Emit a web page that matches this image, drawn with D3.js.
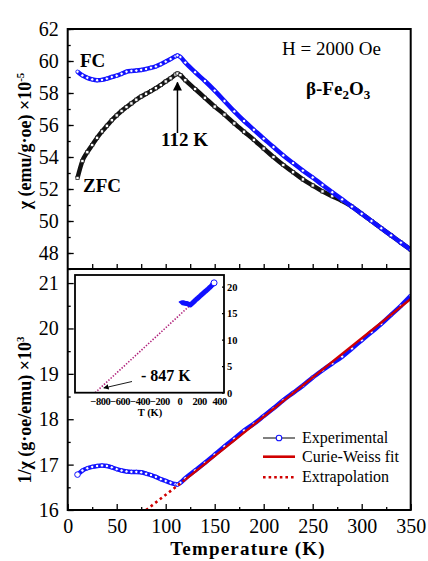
<!DOCTYPE html>
<html><head><meta charset="utf-8">
<script src="https://cdn.jsdelivr.net/npm/d3@7/dist/d3.min.js"></script>
<style>
html,body{margin:0;padding:0;background:#fff;}
</style></head>
<body>
<svg id="c" width="428" height="561"></svg>
<script>
// ---------- DATA ----------
const temps = [10,15,20,25,30,35,40,45,50,55,60,65,70,75,80,85,90,95,100,105,110,112,115,120,130,140,150,160,170,180,190,200,210,220,230,240,250,260,270,280,290,300,310,320,330,340,350];
const chiFC = [59.33,59.1,58.95,58.85,58.8,58.82,58.9,59.0,59.08,59.2,59.33,59.38,59.4,59.44,59.5,59.58,59.66,59.8,59.96,60.12,60.3,60.35,60.25,59.9,59.3,58.75,58.15,57.5,56.85,56.25,55.7,55.15,54.62,54.1,53.62,53.15,52.72,52.25,51.8,51.35,50.9,50.45,50.0,49.55,49.1,48.65,48.2];
const chiZFC = [52.69,53.75,54.3,54.75,55.2,55.6,55.95,56.3,56.6,56.88,57.12,57.35,57.58,57.78,57.95,58.12,58.3,58.5,58.72,58.92,59.15,59.22,59.12,58.8,58.25,57.7,57.15,56.65,56.1,55.58,55.07,54.53,54.0,53.5,53.05,52.6,52.22,51.85,51.55,51.25,50.9,50.45,50.0,49.55,49.1,48.65,48.2];
const invChi = [16.78,16.87,16.92,16.95,16.97,16.98,16.97,16.94,16.9,16.87,16.85,16.84,16.84,16.83,16.8,16.77,16.73,16.68,16.64,16.6,16.57,16.56,16.6,16.7,16.87,17.04,17.22,17.4,17.57,17.75,17.9,18.07,18.24,18.42,18.58,18.74,18.92,19.08,19.23,19.38,19.56,19.74,19.92,20.1,20.3,20.5,20.72];
const fitT = [120, 350], fitVals = [16.67, 20.65];
const extrapT = [80, 120], extrapVals = [16.0, 16.67];
const insetExtrapT = [-847, 120], insetExtrapVals = [0, 16.67];
const xTicks = [0,50,100,150,200,250,300,350];
const topYTicks = [48,50,52,54,56,58,60,62];
const botYTicks = [16,17,18,19,20,21];
const insetXTicks = [-800,-600,-400,-200,0,200,400];
const insetYTicks = [0,5,10,15,20];
const legendItems = ["Experimental","Curie-Weiss fit","Extrapolation"];

// ---------- LAYOUT ----------
const FONT = "'Liberation Serif Regular','Liberation Serif','Times New Roman',serif";
const FONTB = "'Liberation Serif','Times New Roman',serif";
const svg = d3.select("#c");
const L = 67.7, R = 410.7, T1 = 29, MID = 269, B2 = 510;
const blue = "#1010ff", red = "#d00000", mag = "#b0207a";

function txt(sel, bold){
  return sel.style("font-family", bold ? FONTB : FONT).style("font-weight", bold ? 700 : 500).attr("fill","#000");
}

const x = d3.scaleLinear().domain([0,350]).range([L,R]);
const yTop = d3.scaleLinear().domain([47,62]).range([MID,T1]);
const yBot = d3.scaleLinear().domain([16,21.31]).range([B2,MID]);

const ptsFC = temps.map((t,i)=>[t,chiFC[i]]);
const ptsZFC = temps.map((t,i)=>[t,chiZFC[i]]);
const ptsInv = temps.map((t,i)=>[t,invChi[i]]);

function styleAxis(g, fs, bold){
  g.attr("font-family",null).attr("font-size",null);
  g.select(".domain").remove();
  g.selectAll("line").attr("stroke","#000").attr("stroke-width",1.3);
  txt(g.selectAll("text").attr("font-size",fs), bold);
}
const fmt = d3.format("d");

svg.append("clipPath").attr("id","clipTop").append("rect").attr("x",L).attr("y",T1).attr("width",R-L).attr("height",MID-T1);
svg.append("clipPath").attr("id","clipBot").append("rect").attr("x",L).attr("y",MID).attr("width",R-L).attr("height",B2-MID);

// ---- top panel data ----
const gTop = svg.append("g").attr("clip-path","url(#clipTop)");
const lineTop = d3.line().x(d=>x(d[0])).y(d=>yTop(d[1])).curve(d3.curveMonotoneX);
gTop.append("path").datum(ptsZFC).attr("d",lineTop).attr("fill","none").attr("stroke","#111").attr("stroke-width",4.5);
gTop.selectAll("rect.z").data(ptsZFC).enter().append("rect")
  .attr("x",d=>x(d[0])-1.6).attr("y",d=>yTop(d[1])-1.6).attr("width",3.2).attr("height",3.2)
  .attr("fill","#fff").attr("stroke","#222").attr("stroke-width",0.8);
gTop.append("path").datum(ptsFC).attr("d",lineTop).attr("fill","none").attr("stroke",blue).attr("stroke-width",4.5);
gTop.selectAll("circle.f").data(ptsFC).enter().append("circle")
  .attr("cx",d=>x(d[0])).attr("cy",d=>yTop(d[1])).attr("r",1.7)
  .attr("fill","#fff").attr("stroke",blue).attr("stroke-width",0.9);

// ---- bottom panel data ----
const gBot = svg.append("g").attr("clip-path","url(#clipBot)");
const lineBot = d3.line().x(d=>x(d[0])).y(d=>yBot(d[1])).curve(d3.curveMonotoneX);
gBot.append("path").datum(ptsInv).attr("d",lineBot).attr("fill","none").attr("stroke",blue).attr("stroke-width",4.5);
gBot.selectAll("circle.i").data(ptsInv).enter().append("circle")
  .attr("cx",d=>x(d[0])).attr("cy",d=>yBot(d[1])).attr("r",1.7)
  .attr("fill","#fff").attr("stroke",blue).attr("stroke-width",0.9);
gBot.append("circle").attr("cx",x(temps[0])).attr("cy",yBot(invChi[0])).attr("r",2.8).attr("fill","#fff").attr("stroke",blue).attr("stroke-width",1);
const lineLin = d3.line().x(d=>x(d[0])).y(d=>yBot(d[1]));
gBot.append("path").datum(extrapT.map((t,i)=>[t,extrapVals[i]])).attr("d",lineLin)
  .attr("fill","none").attr("stroke",red).attr("stroke-width",2.6).attr("stroke-dasharray","2.6,3.2");
gBot.append("path").datum(fitT.map((t,i)=>[t,fitVals[i]])).attr("d",lineLin)
  .attr("fill","none").attr("stroke",red).attr("stroke-width",2.4);

// ---- axes ----
svg.append("g").attr("transform",`translate(${L},0)`)
  .call(d3.axisLeft(yTop).tickValues(d3.range(47,62.01,1)).tickSizeInner(-3).tickSizeOuter(0).tickFormat(""))
  .call(g=>styleAxis(g,20));
svg.append("g").attr("transform",`translate(${L},0)`)
  .call(d3.axisLeft(yTop).tickValues(topYTicks).tickSizeInner(-6).tickSizeOuter(0).tickPadding(9).tickFormat(fmt))
  .call(g=>styleAxis(g,20));
svg.append("g").attr("transform",`translate(0,${MID})`)
  .call(d3.axisBottom(x).tickValues(d3.range(25,350,25)).tickSizeInner(-5).tickSizeOuter(0).tickFormat(""))
  .call(g=>styleAxis(g,20));
svg.append("g").attr("transform",`translate(${L},0)`)
  .call(d3.axisLeft(yBot).tickValues(d3.range(16.5,21.3,1)).tickSizeInner(-3).tickSizeOuter(0).tickFormat(""))
  .call(g=>styleAxis(g,20));
svg.append("g").attr("transform",`translate(${L},0)`)
  .call(d3.axisLeft(yBot).tickValues(botYTicks).tickSizeInner(-6).tickSizeOuter(0).tickPadding(9).tickFormat(fmt))
  .call(g=>styleAxis(g,20));
svg.append("g").attr("transform",`translate(0,${B2})`)
  .call(d3.axisBottom(x).tickValues(d3.range(25,350,50)).tickSizeInner(-3).tickSizeOuter(0).tickFormat(""))
  .call(g=>styleAxis(g,20));
svg.append("g").attr("transform",`translate(0,${B2})`)
  .call(d3.axisBottom(x).tickValues(xTicks).tickSizeInner(-6).tickSizeOuter(0).tickPadding(9).tickFormat(fmt))
  .call(g=>styleAxis(g,20));

// frames
svg.append("rect").attr("x",L).attr("y",T1).attr("width",R-L).attr("height",B2-T1).attr("fill","none").attr("stroke","#000").attr("stroke-width",2);
svg.append("line").attr("x1",L).attr("x2",R).attr("y1",MID).attr("y2",MID).attr("stroke","#000").attr("stroke-width",2);

// ---- titles ----
txt(svg.append("text").attr("x",248).attr("y",555).attr("text-anchor","middle")
  .attr("font-size",19).attr("letter-spacing",1.2).text("Temperature (K)"), true);

const yl1 = txt(svg.append("text").attr("transform","translate(31,141) rotate(-90)").attr("text-anchor","middle")
  .attr("font-size",18), true);
yl1.append("tspan").text("χ (emu/g·oe) ×10");
yl1.append("tspan").attr("font-size",11).attr("dy",-7).text("-5");

const yl2 = txt(svg.append("text").attr("transform","translate(31,410) rotate(-90)").attr("text-anchor","middle")
  .attr("font-size",18), true);
yl2.append("tspan").text("1/χ (g·oe/emu) ×10");
yl2.append("tspan").attr("font-size",11).attr("dy",-7).text("3");

// ---- annotations top ----
txt(svg.append("text").attr("x",80).attr("y",67).attr("font-size",19).text("FC"), true);
txt(svg.append("text").attr("x",83).attr("y",192).attr("font-size",19).text("ZFC"), true);
txt(svg.append("text").attr("x",161).attr("y",146).attr("font-size",19).text("112 K"), true);
svg.append("defs").append("marker").attr("id","ah").attr("viewBox","0 0 10 10").attr("refX",9).attr("refY",5)
  .attr("markerWidth",6).attr("markerHeight",8).attr("orient","auto-start-reverse")
  .append("path").attr("d","M0,0 L10,5 L0,10 Z").attr("fill","#000");
svg.append("line").attr("x1",x(112)).attr("x2",x(112)).attr("y1",133).attr("y2",yTop(59.22)+9)
  .attr("stroke","#000").attr("stroke-width",1.5).attr("marker-end","url(#ah)");
txt(svg.append("text").attr("x",282).attr("y",55).attr("font-size",19).text("H = 2000 Oe"), false);
const bf = txt(svg.append("text").attr("x",306).attr("y",95).attr("font-size",19), true);
bf.append("tspan").text("β-Fe");
bf.append("tspan").attr("font-size",13).attr("dy",4).text("2");
bf.append("tspan").attr("dy",-4).text("O");
bf.append("tspan").attr("font-size",13).attr("dy",4).text("3");

// ---- legend ----
const lg = svg.append("g");
const lx1 = 263, lx2 = 295, ly = [438, 456.7, 477.3];
lg.append("line").attr("x1",lx1).attr("x2",lx2).attr("y1",ly[0]).attr("y2",ly[0]).attr("stroke","#000").attr("stroke-width",1);
lg.append("circle").attr("cx",(lx1+lx2)/2).attr("cy",ly[0]).attr("r",2.8).attr("fill","#fff").attr("stroke",blue).attr("stroke-width",1.1);
lg.append("line").attr("x1",lx1).attr("x2",lx2).attr("y1",ly[1]).attr("y2",ly[1]).attr("stroke",red).attr("stroke-width",2.6);
lg.append("line").attr("x1",lx1).attr("x2",lx2).attr("y1",ly[2]).attr("y2",ly[2]).attr("stroke",red).attr("stroke-width",2.6).attr("stroke-dasharray","2.6,3");
legendItems.forEach((s,i)=>{
  txt(lg.append("text").attr("x",302).attr("y",ly[i]+5).attr("font-size",16).text(s), false);
});

// ---- inset ----
const iL = 75, iR = 224, iT = 275, iB = 392.7;
const ix = d3.scaleLinear().domain([-1050,450]).range([iL,iR]);
const iy = d3.scaleLinear().domain([0,22.2]).range([iB,iT]);
const gi = svg.append("g");
gi.append("rect").attr("x",iL).attr("y",iT).attr("width",iR-iL).attr("height",iB-iT).attr("fill","#fff");
svg.append("clipPath").attr("id","clipIn").append("rect").attr("x",iL).attr("y",iT).attr("width",iR-iL).attr("height",iB-iT);
const gid = gi.append("g").attr("clip-path","url(#clipIn)");
gid.append("path").datum(insetExtrapT.map((t,i)=>[t,insetExtrapVals[i]]))
  .attr("d",d3.line().x(d=>ix(d[0])).y(d=>iy(d[1])))
  .attr("fill","none").attr("stroke",mag).attr("stroke-width",1.6).attr("stroke-dasharray","1.4,1.6");
gid.append("path").datum(ptsInv).attr("d",d3.line().x(d=>ix(d[0])).y(d=>iy(d[1])).curve(d3.curveMonotoneX))
  .attr("fill","none").attr("stroke",blue).attr("stroke-width",5);
gid.append("circle").attr("cx",ix(350)).attr("cy",iy(20.72)).attr("r",3).attr("fill","#fff").attr("stroke",blue).attr("stroke-width",1);
gi.append("rect").attr("x",iL).attr("y",iT).attr("width",iR-iL).attr("height",iB-iT).attr("fill","none").attr("stroke","#000").attr("stroke-width",1.8);
gi.append("g").attr("transform",`translate(0,${iB})`)
  .call(d3.axisBottom(ix).tickValues(insetXTicks).tickSizeInner(0).tickSizeOuter(0).tickPadding(5).tickFormat(fmt))
  .call(g=>styleAxis(g,10.5,true)).call(g=>g.selectAll("text").attr("letter-spacing",-0.5));
gi.append("g").attr("transform",`translate(${iR},0)`)
  .call(d3.axisRight(iy).tickValues(insetYTicks).tickSizeInner(-2).tickSizeOuter(0).tickPadding(3).tickFormat(fmt))
  .call(g=>styleAxis(g,10.5,true));
txt(gi.append("text").attr("x",150).attr("y",416).attr("text-anchor","middle").attr("font-size",10.5).text("T (K)"), true);
txt(gi.append("text").attr("x",141).attr("y",381).attr("font-size",16).text("- 847 K"), true);
gi.append("line").attr("x1",132).attr("y1",381.5).attr("x2",ix(-760)).attr("y2",388)
  .attr("stroke","#000").attr("stroke-width",0.9).attr("marker-end","url(#ah)");
</script>
</body></html>
